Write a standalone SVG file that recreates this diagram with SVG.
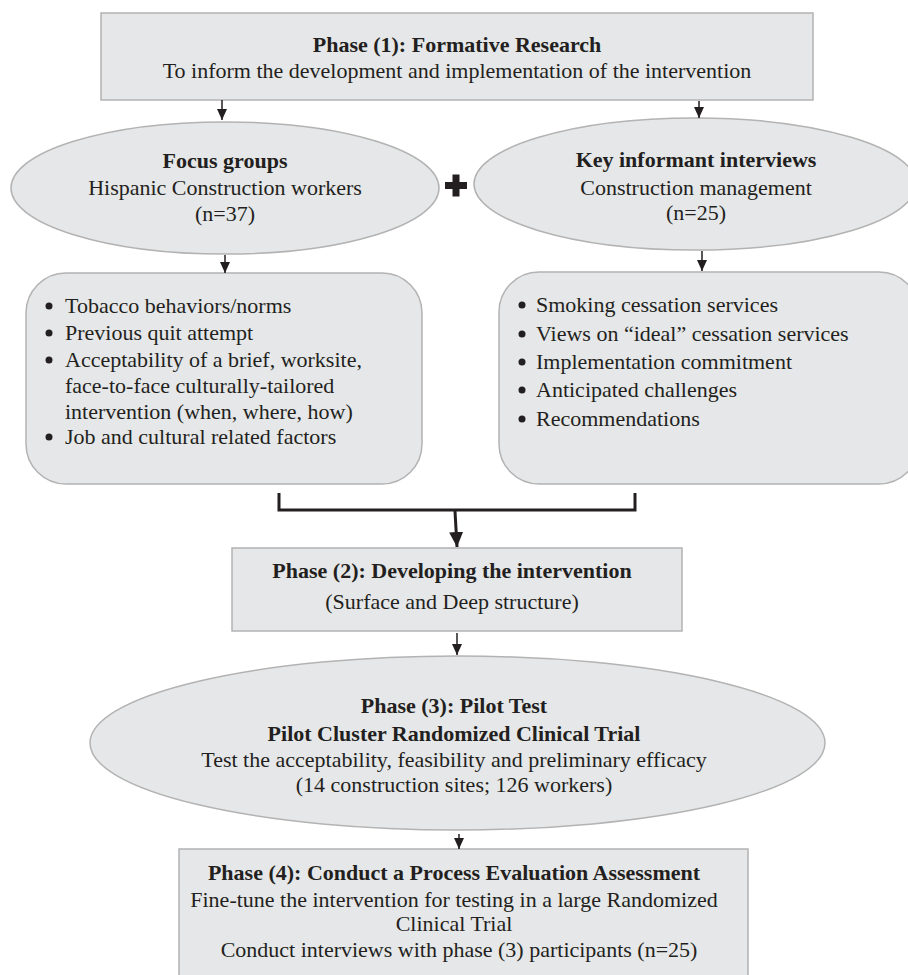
<svg xmlns="http://www.w3.org/2000/svg" width="908" height="975" viewBox="0 0 908 975">
<defs>
<style>
.box{fill:#e6e7e8;stroke:#b3b3b3;stroke-width:1.5}
.t{font-family:"Liberation Serif","Times New Roman",serif;font-size:22px;fill:#231f20}
.c{text-anchor:middle}
.b{font-weight:bold}
.ln{stroke:#231f20;stroke-width:1.5;fill:none}
.dot{fill:#231f20}
</style>
<marker id="ah" markerUnits="userSpaceOnUse" markerWidth="12" markerHeight="12" viewBox="0 0 12 12" refX="11" refY="6" orient="auto">
<path d="M0,1 L11,6 L0,11 Z" fill="#231f20"/>
</marker>
<marker id="ahb" markerUnits="userSpaceOnUse" markerWidth="16" markerHeight="14" viewBox="0 0 16 14" refX="15" refY="7" orient="auto">
<path d="M0,0 L15,7 L0,14 Z" fill="#231f20"/>
</marker>
</defs>
<rect width="908" height="975" fill="#ffffff"/>

<g id="phase1">
<rect class="box" x="101" y="13" width="712" height="87"/>
<text class="t c b" x="457" y="52">Phase (1): Formative Research</text>
<text class="t c" x="457" y="78">To inform the development and implementation of the intervention</text>
</g>

<g id="focus-groups">
<ellipse class="box" cx="225" cy="188" rx="214" ry="66"/>
<text class="t c b" x="225" y="168">Focus groups</text>
<text class="t c" x="225" y="195">Hispanic Construction workers</text>
<text class="t c" x="225" y="221">(n=37)</text>
</g>

<g id="plus">
<rect x="445" y="182" width="22" height="7" fill="#231f20"/>
<rect x="452.5" y="174.5" width="7" height="22" fill="#231f20"/>
</g>

<g id="key-informant">
<ellipse class="box" cx="695" cy="184" rx="221" ry="66"/>
<text class="t c b" x="696" y="167">Key informant interviews</text>
<text class="t c" x="696" y="195">Construction management</text>
<text class="t c" x="696" y="220">(n=25)</text>
</g>

<g id="focus-topics">
<rect class="box" x="26" y="273" width="396" height="211" rx="40" ry="40"/>
<circle class="dot" cx="49" cy="306" r="3.5"/>
<text class="t" x="65" y="313">Tobacco behaviors/norms</text>
<circle class="dot" cx="49" cy="333" r="3.5"/>
<text class="t" x="65" y="340">Previous quit attempt</text>
<circle class="dot" cx="49" cy="360" r="3.5"/>
<text class="t" x="65" y="367">Acceptability of a brief, worksite,</text>
<text class="t" x="65" y="393">face-to-face culturally-tailored</text>
<text class="t" x="65" y="419">intervention (when, where, how)</text>
<circle class="dot" cx="49" cy="437" r="3.5"/>
<text class="t" x="65" y="444">Job and cultural related factors</text>
</g>

<g id="interview-topics">
<rect class="box" x="499" y="272" width="420" height="212" rx="40" ry="40"/>
<circle class="dot" cx="522" cy="305" r="3.5"/>
<text class="t" x="536" y="312">Smoking cessation services</text>
<circle class="dot" cx="522" cy="334" r="3.5"/>
<text class="t" x="536" y="341">Views on “ideal” cessation services</text>
<circle class="dot" cx="522" cy="362" r="3.5"/>
<text class="t" x="536" y="369">Implementation commitment</text>
<circle class="dot" cx="522" cy="390" r="3.5"/>
<text class="t" x="536" y="397">Anticipated challenges</text>
<circle class="dot" cx="522" cy="419" r="3.5"/>
<text class="t" x="536" y="426">Recommendations</text>
</g>

<g id="phase2">
<rect class="box" x="232" y="548" width="450" height="83"/>
<text class="t c b" x="452" y="578">Phase (2): Developing the intervention</text>
<text class="t c" x="452" y="609">(Surface and Deep structure)</text>
</g>

<g id="phase3">
<ellipse class="box" cx="457.5" cy="743" rx="367.5" ry="87"/>
<text class="t c b" x="454" y="713">Phase (3): Pilot Test</text>
<text class="t c b" x="454" y="741">Pilot Cluster Randomized Clinical Trial</text>
<text class="t c" x="454" y="767">Test the acceptability, feasibility and preliminary efficacy</text>
<text class="t c" x="454" y="792">(14 construction sites; 126 workers)</text>
</g>

<g id="phase4">
<rect class="box" x="179" y="849" width="569" height="140"/>
<text class="t c b" x="454" y="880">Phase (4): Conduct a Process Evaluation Assessment</text>
<text class="t c" x="454" y="907">Fine-tune the intervention for testing in a large Randomized</text>
<text class="t c" x="454" y="931">Clinical Trial</text>
<text class="t c" x="459" y="957">Conduct interviews with phase (3) participants (n=25)</text>
</g>

<g id="connectors">
<line class="ln" x1="222" y1="100" x2="222" y2="120" marker-end="url(#ah)"/>
<line class="ln" x1="699" y1="101" x2="699" y2="118" marker-end="url(#ah)"/>
<line class="ln" x1="225" y1="255" x2="225" y2="273" marker-end="url(#ah)"/>
<line class="ln" x1="702" y1="251" x2="702" y2="271" marker-end="url(#ah)"/>
<path d="M279,493 V510 H635 V493" fill="none" stroke="#231f20" stroke-width="3"/>
<line x1="455" y1="511" x2="457" y2="547" stroke="#231f20" stroke-width="3" marker-end="url(#ahb)"/>
<line class="ln" x1="457" y1="633" x2="457" y2="655" marker-end="url(#ah)"/>
<line class="ln" x1="459" y1="834" x2="459" y2="849" marker-end="url(#ah)"/>
</g>
</svg>
